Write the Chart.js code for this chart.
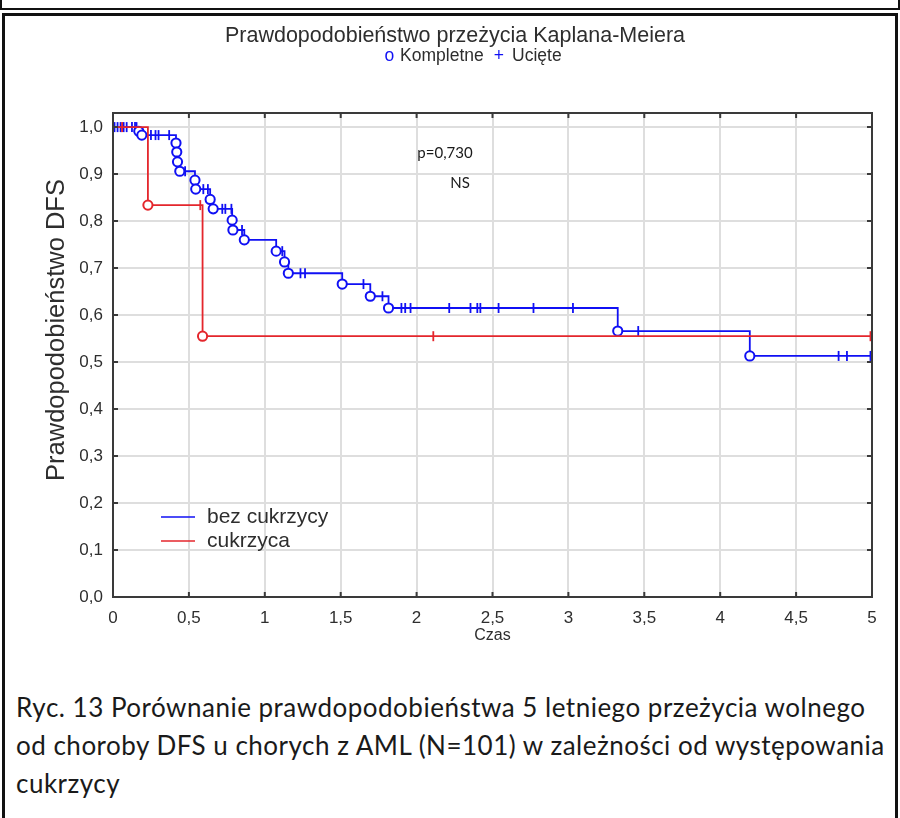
<!DOCTYPE html>
<html lang="pl">
<head>
<meta charset="utf-8">
<title>Prawdopodobieństwo przeżycia Kaplana-Meiera</title>
<script src="https://cdn.jsdelivr.net/npm/chart.js@4.4.1/dist/chart.umd.min.js"></script>
<style>
  html, body { margin: 0; padding: 0; background: #fff; }
  body { width: 900px; height: 818px; position: relative; overflow: hidden; }
  #top-frame { position: absolute; left: 0; top: -6px; width: 896px; height: 12px; border: 2px solid #111; }
  #frame { position: absolute; left: 2px; top: 13px; width: 890px; height: 820px; border: 3px solid #111; }
  #km-chart { position: absolute; left: 0; top: 0; }
  #caption {
    position: absolute; left: 16px; top: 688px;
    font-family: Lato, "Open Sans", sans-serif; font-size: 26px; line-height: 38px;
    letter-spacing: 0.5px; color: #1a1a1a; white-space: nowrap;
  }
</style>
</head>
<body>
<div id="top-frame"></div>
<div id="frame"></div>
<canvas id="km-chart" width="900" height="660"></canvas>
<div id="caption">
  Ryc. 13 Porównanie prawdopodobieństwa 5 letniego przeżycia wolnego<br>
  od choroby DFS u chorych z AML (N=101) w zależności od występowania<br>
  cukrzycy
</div>
<script>
const X_MAX = 5;
const Y_MAX = 1.03;

// bez cukrzycy - event times (circles) and survival right after each event
const noDmEventTimes = [0.17, 0.19, 0.415, 0.42, 0.425, 0.44, 0.54, 0.545, 0.64, 0.66,
    0.785, 0.79, 0.865, 1.075, 1.13, 1.155, 1.51, 1.695, 1.815, 3.325, 4.195];
const noDmSurvival = [0.991, 0.983, 0.966, 0.947, 0.926, 0.906, 0.887, 0.868, 0.846, 0.826,
    0.802, 0.781, 0.760, 0.736, 0.713, 0.689, 0.666, 0.640, 0.615, 0.566, 0.513];
// censored cases (+)
const noDmCensoredTimes = [0.01, 0.03, 0.05, 0.07, 0.09, 0.125, 0.145, 0.155,
    0.25, 0.28, 0.30, 0.37, 0.475, 0.595, 0.625, 0.72, 0.74, 0.78, 0.85, 1.115,
    1.235, 1.265, 1.65, 1.775, 1.90, 1.925, 1.96, 2.215, 2.355, 2.40, 2.42, 2.54,
    2.77, 3.03, 3.46, 4.78, 4.835, 4.99];

// cukrzyca
const dmEventTimes = [0.23, 0.59];
const dmSurvival = [0.834, 0.555];
const dmCensoredTimes = [0.06, 0.575, 2.11, 4.99];

const seriesLabels = ['bez cukrzycy', 'cukrzyca'];

const BLUE = '#1010f4';
const RED = '#e4262c';
const AXIS_COLOR = '#3a3a3a';
const TEXT_COLOR = '#2e2e2e';
const FONT = '"Liberation Sans", Arial, sans-serif';

// survival value in force at time t (used to place the censored marks)
function kmValueAt(times, surv, t) {
    let s = 1;
    for (let i = 0; i < times.length; i++) {
        if (times[i] <= t) s = surv[i];
    }
    return s;
}

function stepPoints(times, surv) {
    const pts = [{x: 0, y: 1}];
    times.forEach((t, i) => pts.push({x: t, y: surv[i]}));
    pts.push({x: X_MAX, y: surv[surv.length - 1]});
    return pts;
}

function eventPoints(times, surv) {
    return times.map((t, i) => ({x: t, y: surv[i]}));
}

function censoredPoints(censored, times, surv) {
    return censored.map(t => ({x: t, y: kmValueAt(times, surv, t)}));
}

function makeGroup(label, color, times, surv, censored) {
    return [{
        label: label + ' kompletne',
        data: eventPoints(times, surv),
        showLine: false,
        pointStyle: 'circle',
        pointRadius: 4.6,
        borderWidth: 2,
        borderColor: color,
        backgroundColor: '#fff'
    }, {
        label: label + ' ucięte',
        data: censoredPoints(censored, times, surv),
        showLine: false,
        pointStyle: 'line',
        rotation: 90,
        pointRadius: 5,
        borderWidth: 1.8,
        borderColor: color
    }, {
        label: label,
        data: stepPoints(times, surv),
        showLine: true,
        stepped: 'before',
        borderColor: color,
        borderWidth: 1.8,
        pointRadius: 0
    }];
}

// titles, legend, annotation and the inward tick marks
const chartDecor = {
    id: 'chartDecor',
    afterDraw(chart) {
        const {ctx, chartArea: a, scales: {x, y}} = chart;
        ctx.save();

        ctx.strokeStyle = AXIS_COLOR;
        ctx.lineWidth = 2;
        ctx.strokeRect(a.left, a.top, a.right - a.left, a.bottom - a.top);

        const tick = 5;
        ctx.beginPath();
        x.ticks.forEach(t => {
            const px = x.getPixelForValue(t.value);
            ctx.moveTo(px, a.bottom); ctx.lineTo(px, a.bottom - tick);
            ctx.moveTo(px, a.top); ctx.lineTo(px, a.top + tick);
        });
        y.ticks.forEach(t => {
            const py = y.getPixelForValue(t.value);
            ctx.moveTo(a.left, py); ctx.lineTo(a.left + tick, py);
            ctx.moveTo(a.right, py); ctx.lineTo(a.right - tick, py);
        });
        ctx.stroke();

        ctx.fillStyle = TEXT_COLOR;
        ctx.textBaseline = 'middle';

        // title
        ctx.textAlign = 'center';
        ctx.font = '21.5px ' + FONT;
        ctx.fillText('Prawdopodobieństwo przeżycia Kaplana-Meiera', 455, 36);

        // subtitle: marker symbol + description, with gaps after each piece
        ctx.font = '17.5px ' + FONT;
        const parts = [['o', BLUE, 6], ['Kompletne', TEXT_COLOR, 10], ['+', BLUE, 8], ['Ucięte', TEXT_COLOR, 0]];
        const total = parts.reduce((w, p) => w + ctx.measureText(p[0]).width + p[2], 0);
        let cx = 473 - total / 2;
        ctx.textAlign = 'left';
        parts.forEach(([txt, col, gap]) => {
            ctx.fillStyle = col;
            ctx.fillText(txt, cx, 56);
            cx += ctx.measureText(txt).width + gap;
        });

        // axis titles
        ctx.fillStyle = TEXT_COLOR;
        ctx.textAlign = 'center';
        ctx.font = '16px ' + FONT;
        ctx.fillText('Czas', (a.left + a.right) / 2, 636);

        ctx.save();
        ctx.translate(57, 330);
        ctx.rotate(-Math.PI / 2);
        ctx.font = '25.5px ' + FONT;
        ctx.fillText('Prawdopodobieństwo DFS', 0, 0);
        ctx.restore();

        // p-value note
        ctx.font = '15px Lato, sans-serif';
        ctx.fillStyle = '#1a1a1a';
        ctx.fillText('p=0,730', 445, 153);
        ctx.fillText('NS', 460, 183);

        // legend
        const legendColors = [BLUE, RED];
        ctx.font = '21px ' + FONT;
        ctx.textAlign = 'left';
        seriesLabels.forEach((lbl, i) => {
            const ly = 517 + i * 24;
            ctx.strokeStyle = legendColors[i];
            ctx.lineWidth = 1.5;
            ctx.beginPath();
            ctx.moveTo(161, ly); ctx.lineTo(195, ly);
            ctx.stroke();
            ctx.fillStyle = TEXT_COLOR;
            ctx.fillText(lbl, 207, ly);
        });

        ctx.restore();
    }
};

const datasets = [
    ...makeGroup(seriesLabels[1], RED, dmEventTimes, dmSurvival, dmCensoredTimes),
    ...makeGroup(seriesLabels[0], BLUE, noDmEventTimes, noDmSurvival, noDmCensoredTimes)
];

new Chart(document.getElementById('km-chart'), {
    type: 'scatter',
    data: { datasets: datasets },
    plugins: [chartDecor],
    options: {
        responsive: false,
        animation: false,
        layout: { padding: { top: 113, right: 28, bottom: 23, left: 0 } },
        plugins: {
            legend: { display: false },
            tooltip: { enabled: false }
        },
        scales: {
            x: {
                type: 'linear',
                min: 0,
                max: X_MAX,
                afterFit: scale => { scale.height = 40; },
                ticks: {
                    stepSize: 0.5,
                    padding: 11,
                    color: TEXT_COLOR,
                    font: { family: FONT, size: 17 },
                    callback: v => String(v).replace('.', ',')
                },
                grid: { color: '#dedede', lineWidth: 2, drawTicks: false },
                border: { color: AXIS_COLOR, width: 2 }
            },
            y: {
                min: 0,
                max: Y_MAX,
                afterFit: scale => { scale.width = 113; },
                ticks: {
                    stepSize: 0.1,
                    includeBounds: false,
                    padding: 10,
                    color: TEXT_COLOR,
                    font: { family: FONT, size: 17 },
                    callback: v => v.toFixed(1).replace('.', ',')
                },
                grid: { color: '#dedede', lineWidth: 2, drawTicks: false },
                border: { color: AXIS_COLOR, width: 2 }
            }
        }
    }
});
</script>
</body>
</html>
